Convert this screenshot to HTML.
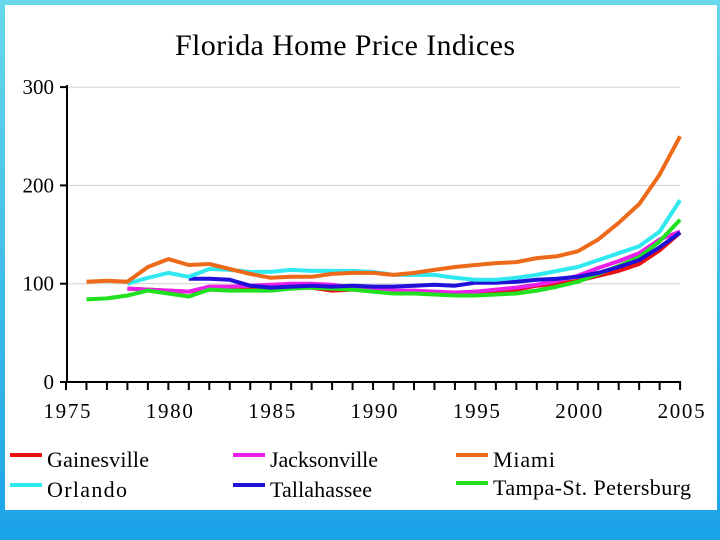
<!DOCTYPE html>
<html><head><meta charset="utf-8"><style>
html,body{margin:0;padding:0;width:720px;height:540px;overflow:hidden;background:linear-gradient(#68d8ea,#1ba3e8 100%);font-family:"Liberation Serif",serif}
#panel{position:absolute;left:5px;top:5px;width:712px;height:505px;background:#fff}
</style></head><body>
<div id="panel"></div>
<svg id="c" width="720" height="540" style="position:absolute;left:0;top:0"></svg>
<script>
const years=[1976,1977,1978,1979,1980,1981,1982,1983,1984,1985,1986,1987,1988,1989,1990,1991,1992,1993,1994,1995,1996,1997,1998,1999,2000,2001,2002,2003,2004,2005];
const miami=[102,103,102,117,125,119,120,115,110,106,107,107,110,111,111,109,111,114,117,119,121,122,126,128,133,145,162,181,211,250];
const orlando=[null,null,100,106,111,107,115,114,112,112,114,113,113,113,112,109,109,109,106,104,104,106,109,113,117,124,131,138,153,185];
const tallahassee=[null,null,null,null,null,105,105,104,98,96,97,98,97,98,97,97,98,99,98,101,101,102,104,105,107,111,117,124,137,152];
const jacksonville=[null,null,95,94,93,92,97,97,98,99,100,100,99,96,95,93,93,92,91,92,94,96,99,103,108,116,123,131,145,153];
const gainesville=[null,null,95,94,93,92,95,95,95,95,96,96,93,94,94,92,92,91,90,91,92,94,98,100,103,108,113,120,134,152];
const tampa=[84,85,88,93,90,87,94,93,93,93,95,96,95,94,92,90,90,89,88,88,89,90,93,97,102,110,118,127,143,165];
const yTicks=[0,100,200,300];
const xLabels=[1975,1980,1985,1990,1995,2000,2005];
const X=y=>66+(y-1975)*20.47, Y=v=>382-v*0.983;
const svg=document.getElementById('c');const NS='http://www.w3.org/2000/svg';
function el(t,a,p){const e=document.createElementNS(NS,t);for(const k in a)e.setAttribute(k,a[k]);(p||svg).appendChild(e);return e;}
let t=el('text',{x:345,y:55,'text-anchor':'middle','font-size':30,'textLength':340,fill:'#000'});t.textContent='Florida Home Price Indices';


yTicks.forEach(v=>{
 if(v>0){const g=el('line',{x1:67,x2:680,y1:Y(v),y2:Y(v),stroke:'#d0d0d0','stroke-width':1});
 
 }
 el('line',{x1:60,x2:67,y1:Y(v),y2:Y(v),stroke:'#000','stroke-width':2});
 const l=el('text',{x:54,y:Y(v)+7,'text-anchor':'end','font-size':21});l.textContent=v;
 
 
});
el('line',{x1:67,x2:67,y1:Y(300)-2,y2:Y(0),stroke:'#000','stroke-width':2});
el('line',{x1:66,x2:681,y1:Y(0),y2:Y(0),stroke:'#000','stroke-width':2});
for(let y=1975;y<=2005;y++){el('line',{x1:X(y),x2:X(y),y1:Y(0),y2:Y(0)+8,stroke:'#000','stroke-width':2});}
xLabels.forEach(y=>{const l=el('text',{x:X(y)+1,y:418,'text-anchor':'middle','font-size':21,'textLength':47});l.textContent=y;
 
 });
const series=[['gainesville',gainesville,'#e81010'],['jacksonville',jacksonville,'#e820e8'],['tampa',tampa,'#20e020'],['tallahassee',tallahassee,'#2010d8'],['orlando',orlando,'#30e8f0'],['miami',miami,'#ec6a1a']];
series.forEach(([n,d,c])=>{let p='';d.forEach((v,i)=>{if(v==null)return;p+=(p?'L':'M')+X(years[i]).toFixed(1)+','+Y(v).toFixed(1);});
 const e=el('path',{d:p,fill:'none',stroke:c,'stroke-width':4,'stroke-linejoin':'round'});
 
 });
const leg=[['Gainesville','#e81010',10,460,102],['Jacksonville','#e820e8',233,460,108],['Miami','#ec6a1a',456,460,62],['Orlando','#30e8f0',10,490,80],['Tallahassee','#2010d8',233,490,102],['Tampa-St. Petersburg','#20e020',456,488,198]];
leg.forEach(([n,c,x,y,w])=>{el('line',{x1:x,x2:x+32,y1:y-5,y2:y-5,stroke:c,'stroke-width':4});
 const l=el('text',{x:x+37,y:y+7,'font-size':22,'textLength':w});l.textContent=n;
 
 });
</script>
</body></html>
